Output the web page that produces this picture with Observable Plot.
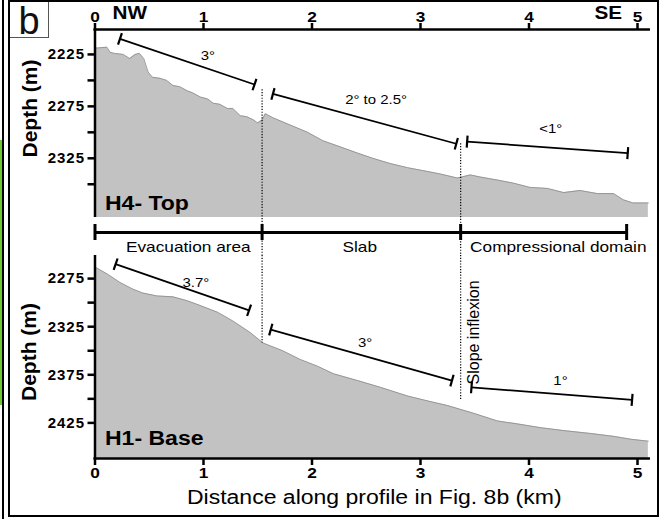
<!DOCTYPE html>
<html>
<head>
<meta charset="utf-8">
<script src="https://cdn.jsdelivr.net/npm/d3@7"></script>
<script src="https://cdn.jsdelivr.net/npm/@observablehq/plot@0.6"></script>
<style>
html,body{margin:0;padding:0;background:#fff;}
#wrap{position:relative;width:661px;height:519px;overflow:hidden;font-family:"Liberation Sans",Arial,sans-serif;background:#fff;}
#wrap svg{position:absolute;left:0;top:0;}
#outer{position:absolute;left:2px;top:0;width:2px;height:519px;background:#000;}
#green{position:absolute;left:0;top:140px;width:2px;height:265px;background:#6cc832;}
#frame{position:absolute;left:8px;top:0;width:647px;height:513px;border:2px solid #000;}
#blabel{position:absolute;left:10px;top:2px;width:38px;height:35px;border-right:1px solid #555;border-bottom:1px solid #555;font-size:38px;line-height:38px;text-align:center;color:#111;overflow:visible;}
</style>
</head>
<body>
<div id="wrap">
  <div id="green"></div><div id="outer"></div><div id="frame"></div>
  <div id="blabel">b</div>
</div>
<script>
// ---------------- data ----------------
const xTicks = [0, 1, 2, 3, 4, 5];
const topDepthTicks = [2225, 2250, 2275, 2300, 2325, 2350];
const topDepthLabels = [2225, 2275, 2325];
const baseDepthTicks = [2275, 2300, 2325, 2350, 2375, 2400, 2425];
const baseDepthLabels = [2275, 2325, 2375, 2425];
const topDomain = [2201, 2382];
const baseDomain = [2251, 2462];

// H4 - Top horizon profile (distance km, depth m)
const h4Km = [0,0.11,0.14,0.18,0.26,0.32,0.37,0.41,0.45,0.49,0.53,0.60,0.66,0.72,0.78,0.85,0.90,0.97,1.04,1.09,1.15,1.22,1.27,1.34,1.40,1.46,1.50,1.54,1.57,1.64,1.80,1.96,2.10,2.26,2.42,2.56,2.72,2.88,3.03,3.18,3.34,3.46,3.55,3.71,3.86,4.01,4.17,4.32,4.47,4.63,4.78,4.87,4.96,5.10];
const h4Depth = [2219,2218,2223,2224,2225,2229,2225,2224,2229,2242,2247,2248,2250,2255,2256,2260,2262,2266,2268,2272,2273,2277,2277,2284,2285,2288,2291,2288,2282,2286,2293,2300,2308,2314,2320,2325,2330,2334,2337,2340,2344,2341,2343,2346,2349,2353,2354,2358,2356,2359,2359,2365,2368,2368];

// H1 - Base horizon profile
const h1Km = [0,0.11,0.23,0.35,0.44,0.57,0.72,0.85,0.97,1.13,1.27,1.43,1.55,1.73,1.89,2.05,2.20,2.42,2.63,2.88,3.06,3.25,3.49,3.71,3.89,4.11,4.32,4.57,4.78,4.94,5.10];
const h1Depth = [2263,2270,2279,2286,2290,2293,2294,2298,2303,2310,2319,2331,2342,2350,2359,2366,2374,2381,2388,2397,2402,2407,2415,2423,2426,2430,2433,2436,2439,2442,2444];

// domains
const regionNames = ["Evacuation area", "Slab", "Compressional domain"];
const regionLabelKm = [0.86, 2.44, 4.27];
const regionBounds = [0, 1.54, 3.37, 4.9];
const inflexionKm = [1.54, 3.37];
const inflexionTopStart = [2259, 2311];
const inflexionBaseEnd = [2342, 2402];
const inflexionText = "Slope inflexion";
const inflexionTextKm = 3.49;
const inflexionTextDepth = 2331;

// slope annotations, top horizon
const topSlopeText = ["3°", "2° to 2.5°", "<1°"];
const topSlopeKm1 = [0.23, 1.64, 3.43];
const topSlopeKm2 = [1.47, 3.33, 4.91];
const topSlopeD1 = [2210, 2263, 2309];
const topSlopeD2 = [2254, 2311, 2320];
const topSlopeLabelKm = [1.04, 2.59, 4.20];
const topSlopeLabelD = [2226, 2269, 2297];

// slope annotations, base horizon
const baseSlopeText = ["3.7°", "3°", "1°"];
const baseSlopeKm1 = [0.19, 1.62, 3.47];
const baseSlopeKm2 = [1.42, 3.29, 4.95];
const baseSlopeD1 = [2260, 2328, 2388];
const baseSlopeD2 = [2308, 2381, 2401];
const baseSlopeLabelKm = [0.93, 2.49, 4.29];
const baseSlopeLabelD = [2279, 2342, 2381];

const directions = ["NW", "SE"];
const directionKm = [0.32, 4.73];

// ---------------- layout ----------------
const W = 661, H = 519;
const ML = 94.5, MR = 24;
const TOP = {top: 29, bottom: 302};
const BASE = {top: 255, bottom: 61};
const FONT = "'Liberation Sans', Arial, Helvetica, sans-serif";
const pxPerKm = (W - ML - MR) / 5;

const h4 = h4Km.map((km, i) => ({km, depth: h4Depth[i]}));
const h1 = h1Km.map((km, i) => ({km, depth: h1Depth[i]}));

function slopes(text, k1, k2, d1, d2, lk, ld) {
  return text.map((t, i) => ({t, x1: k1[i], x2: k2[i], y1: d1[i], y2: d2[i], lx: lk[i], ly: ld[i]}));
}
function endTicks(segs, pxPerM, half) {
  const out = [];
  for (const s of segs) {
    const dxp = (s.x2 - s.x1) * pxPerKm, dyp = (s.y2 - s.y1) * pxPerM;
    const len = Math.hypot(dxp, dyp);
    const nx = -dyp / len, ny = dxp / len;
    for (const [x, d] of [[s.x1, s.y1], [s.x2, s.y2]]) {
      out.push({x1: x + nx * half / pxPerKm, y1: d + ny * half / pxPerM,
                x2: x - nx * half / pxPerKm, y2: d - ny * half / pxPerM});
    }
  }
  return out;
}
const topSegs = slopes(topSlopeText, topSlopeKm1, topSlopeKm2, topSlopeD1, topSlopeD2, topSlopeLabelKm, topSlopeLabelD);
const baseSegs = slopes(baseSlopeText, baseSlopeKm1, baseSlopeKm2, baseSlopeD1, baseSlopeD2, baseSlopeLabelKm, baseSlopeLabelD);
const topPxPerM = (H - TOP.top - TOP.bottom) / (topDomain[1] - topDomain[0]);
const basePxPerM = (H - BASE.top - BASE.bottom) / (baseDomain[1] - baseDomain[0]);

const common = {
  width: W, height: H, marginLeft: ML, marginRight: MR,
  style: {background: "transparent", overflow: "visible", fontFamily: FONT, color: "#000"}
};
const segMarks = (segs, pxPerM) => [
  Plot.link(segs, {x1: "x1", y1: "y1", x2: "x2", y2: "y2", stroke: "#000", strokeWidth: 1.7}),
  Plot.link(endTicks(segs, pxPerM, 6), {x1: "x1", y1: "y1", x2: "x2", y2: "y2", stroke: "#000", strokeWidth: 2.2}),
  Plot.text(segs, {x: "lx", y: "ly", text: "t", fontSize: 13, fill: "#000"})
];

const topPlot = Plot.plot({
  ...common, marginTop: TOP.top, marginBottom: TOP.bottom,
  x: {domain: [0, 5]},
  y: {domain: topDomain, reverse: true},
  marks: [
    Plot.area(h4, {x1: "km", y1: "depth", y2: topDomain[1], fill: "#c2c2c2"}),
    Plot.line(h4, {x: "km", y: "depth", stroke: "#8a8a8a", strokeWidth: 0.8}),
    Plot.ruleX(inflexionKm, {x: d => d, y1: (d, i) => inflexionTopStart[i], y2: topDomain[1], insetBottom: -38, stroke: "#000", strokeWidth: 1.2, strokeDasharray: "1.2,1.6"}),
    ...segMarks(topSegs, topPxPerM),
    Plot.ruleX([0], {stroke: "#000", strokeWidth: 2.5}),
    Plot.ruleY([topDomain[0]], {x1: -0.01, x2: 5.12, stroke: "#000", strokeWidth: 2.6}),
    Plot.axisX({anchor: "top", ticks: xTicks, tickSize: 7, tickPadding: 1, tickFormat: d => String(d), fontSize: 15, fontWeight: "bold", strokeWidth: 2.5, label: null}),
    Plot.axisY({ticks: topDepthTicks, tickSize: 7, tickPadding: 3, tickFormat: d => topDepthLabels.includes(d) ? String(d) : "", fontSize: 15, fontWeight: "bold", strokeWidth: 2.5, label: null}),
    Plot.text(directions, {x: directionKm, frameAnchor: "top", dy: -16, lineAnchor: "middle", fontSize: 18, fontWeight: "bold"}),
    Plot.text(["Depth (m)"], {frameAnchor: "left", dx: -65, dy: -15, rotate: -90, textAnchor: "middle", lineAnchor: "middle", fontSize: 21, fontWeight: "bold"}),
    Plot.text(["H4- Top"], {frameAnchor: "bottom-left", dx: 10, dy: -14, textAnchor: "start", lineAnchor: "middle", fontSize: 20, fontWeight: "bold"}),
    Plot.ruleY([topDomain[1]], {x1: regionBounds[0], x2: regionBounds[3], dy: 15, stroke: "#000", strokeWidth: 3}),
    Plot.ruleX(regionBounds, {x: d => d, y1: topDomain[1], y2: topDomain[1], dy: 15, insetTop: -8, insetBottom: -8, stroke: "#000", strokeWidth: 3}),
    Plot.text(regionNames, {x: regionLabelKm, frameAnchor: "bottom", dy: 30, lineAnchor: "middle", fontSize: 15})
  ]
});

const basePlot = Plot.plot({
  ...common, marginTop: BASE.top, marginBottom: BASE.bottom,
  x: {domain: [0, 5]},
  y: {domain: baseDomain, reverse: true},
  marks: [
    Plot.area(h1, {x1: "km", y1: "depth", y2: baseDomain[1], fill: "#c2c2c2"}),
    Plot.line(h1, {x: "km", y: "depth", stroke: "#8a8a8a", strokeWidth: 0.8}),
    Plot.ruleX(inflexionKm, {x: d => d, y1: baseDomain[0], y2: (d, i) => inflexionBaseEnd[i], stroke: "#000", strokeWidth: 1.2, strokeDasharray: "1.2,1.6"}),
    ...segMarks(baseSegs, basePxPerM),
    Plot.text([inflexionText], {x: [inflexionTextKm], y: [inflexionTextDepth], rotate: -90, textAnchor: "middle", lineAnchor: "middle", fontSize: 16}),
    Plot.ruleX([0], {stroke: "#000", strokeWidth: 2.5}),
    Plot.ruleY([baseDomain[1]], {x1: -0.01, x2: 5.12, stroke: "#000", strokeWidth: 2.6}),
    Plot.axisX({anchor: "bottom", ticks: xTicks, tickSize: 7, tickPadding: 2, tickFormat: d => String(d), fontSize: 15, fontWeight: "bold", strokeWidth: 2.5, label: null}),
    Plot.axisY({ticks: baseDepthTicks, tickSize: 7, tickPadding: 3, tickFormat: d => baseDepthLabels.includes(d) ? String(d) : "", fontSize: 15, fontWeight: "bold", strokeWidth: 2.5, label: null}),
    Plot.text(["Depth (m)"], {frameAnchor: "left", dx: -66, dy: -5, rotate: -90, textAnchor: "middle", lineAnchor: "middle", fontSize: 21, fontWeight: "bold"}),
    Plot.text(["H1- Base"], {frameAnchor: "bottom-left", dx: 10, dy: -20, textAnchor: "start", lineAnchor: "middle", fontSize: 20, fontWeight: "bold"}),
    Plot.text(["Distance along profile in Fig. 8b (km)"], {frameAnchor: "bottom", dx: 8, dy: 39, lineAnchor: "middle", fontSize: 20})
  ]
});

const wrap = document.getElementById("wrap");
wrap.appendChild(topPlot);
wrap.appendChild(basePlot);

// horizontal stretch of the lettering, as in the reference
const STRETCH = 1.15;
wrap.querySelectorAll("svg text").forEach(t => {
  const tr = (t.getAttribute("transform") || "") + (t.parentNode.getAttribute("transform") || "");
  if (/rotate/.test(tr)) return;
  const anchor = t.getAttribute("text-anchor") || t.parentNode.getAttribute("text-anchor") || "";
  const L = t.getComputedTextLength();
  if (L <= 0) return;
  if (anchor === "end") {          // right-aligned tick labels: widen with spacing instead
    t.style.letterSpacing = "1px";
    return;
  }
  t.setAttribute("textLength", (L * STRETCH).toFixed(1));
  t.setAttribute("lengthAdjust", "spacingAndGlyphs");
});
</script>
</body>
</html>
